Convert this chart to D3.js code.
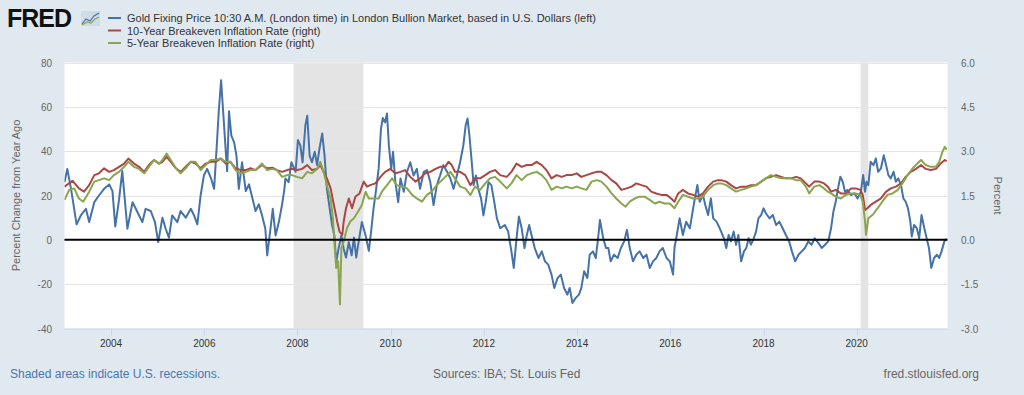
<!DOCTYPE html>
<html>
<head>
<meta charset="utf-8">
<script src="https://cdn.jsdelivr.net/npm/d3@7"></script>
<style>
  body { margin: 0; background: #e1e9f0; }
  svg { display: block; font-family: "Liberation Sans", Arial, sans-serif; }
</style>
</head>
<body>
<div id="chart"></div>
<script>
// ========================================
// Data (decimal year, value)
// ========================================

// Gold fixing price, percent change from year ago (left axis)
var gold = [
  [2003.00, 26], [2003.06, 32], [2003.14, 23], [2003.26, 7], [2003.35, 11], [2003.46, 14],
  [2003.53, 8], [2003.64, 17], [2003.74, 20], [2003.85, 23], [2003.96, 25], [2004.03, 22],
  [2004.09, 6], [2004.17, 18], [2004.24, 31], [2004.35, 5], [2004.46, 17], [2004.53, 14],
  [2004.60, 11], [2004.67, 8], [2004.74, 14], [2004.85, 13], [2004.94, 8], [2005.01, -1],
  [2005.10, 10], [2005.17, 5], [2005.24, 1], [2005.31, 11], [2005.42, 8], [2005.49, 13],
  [2005.60, 10], [2005.71, 14], [2005.78, 11], [2005.85, 7], [2005.92, 20], [2005.99, 29],
  [2006.06, 32], [2006.14, 28], [2006.21, 23], [2006.26, 40], [2006.31, 58], [2006.36, 72],
  [2006.41, 56], [2006.46, 40], [2006.49, 31], [2006.53, 58], [2006.58, 47], [2006.64, 44],
  [2006.69, 38], [2006.74, 23], [2006.81, 35], [2006.89, 22], [2006.96, 25], [2007.03, 19],
  [2007.10, 13], [2007.17, 16], [2007.24, 11], [2007.31, 5], [2007.35, -7], [2007.42, 5],
  [2007.47, 14], [2007.53, 2], [2007.60, 8], [2007.67, 16], [2007.72, 23], [2007.74, 27.7],
  [2007.81, 26], [2007.87, 35], [2007.96, 30.7], [2008.01, 45], [2008.06, 42.7], [2008.11, 35],
  [2008.17, 51.7], [2008.21, 56], [2008.26, 38], [2008.31, 35], [2008.37, 39.7], [2008.42, 33.7],
  [2008.47, 41], [2008.53, 48], [2008.58, 38], [2008.63, 23], [2008.68, 15.7], [2008.74, 6.7],
  [2008.79, 2], [2008.83, -10], [2008.88, -4], [2008.94, 2], [2008.99, -4], [2009.04, -8],
  [2009.10, -1], [2009.16, -7], [2009.21, 1], [2009.26, -8], [2009.31, -1], [2009.38, 8],
  [2009.46, 2], [2009.53, -5], [2009.58, 4], [2009.63, 14], [2009.68, 21.7], [2009.74, 32],
  [2009.79, 50], [2009.83, 55], [2009.88, 53], [2009.92, 57], [2009.96, 42.7], [2010.01, 32],
  [2010.05, 39.7], [2010.10, 26], [2010.16, 17], [2010.21, 27.7], [2010.28, 21.7], [2010.35, 30.7],
  [2010.42, 35], [2010.49, 29], [2010.56, 32], [2010.63, 23], [2010.71, 30.7], [2010.78, 31.5],
  [2010.85, 26], [2010.92, 15.7], [2010.99, 24.7], [2011.06, 29], [2011.13, 33.7], [2011.21, 30.7],
  [2011.28, 27.7], [2011.35, 23], [2011.42, 29], [2011.49, 35], [2011.56, 42.7], [2011.61, 51.7],
  [2011.65, 54.7], [2011.69, 47], [2011.74, 35], [2011.78, 24.7], [2011.83, 29], [2011.88, 23],
  [2011.94, 18.7], [2011.99, 11], [2012.04, 17], [2012.10, 26], [2012.16, 24.7], [2012.21, 18.7],
  [2012.28, 9.7], [2012.35, 5.2], [2012.45, 6.7], [2012.52, 3.7], [2012.59, -5.2], [2012.64, -12.7],
  [2012.70, 0.7], [2012.75, 10.5], [2012.81, 5.2], [2012.87, -3.7], [2012.92, 2.2], [2012.97, 6.7],
  [2013.02, 2.2], [2013.09, -3.7], [2013.17, -8.2], [2013.24, -5.2], [2013.31, -9.7], [2013.38, -11.2],
  [2013.45, -15.7], [2013.51, -21.7], [2013.58, -17.2], [2013.65, -15.7], [2013.72, -21.7], [2013.79, -24.7],
  [2013.84, -21.7], [2013.90, -28.5], [2013.97, -26.2], [2014.04, -24.7], [2014.09, -21.7], [2014.15, -14.2],
  [2014.22, -17.2], [2014.27, -6.7], [2014.34, -5.2], [2014.40, -8.2], [2014.45, 0.7], [2014.49, 9],
  [2014.56, 0.7], [2014.62, -3.7], [2014.67, -3.7], [2014.72, -9.7], [2014.79, -6.7], [2014.87, -8.2],
  [2014.94, -3.7], [2015.01, -0.7], [2015.07, 4.5], [2015.13, -3.7], [2015.20, -9.7], [2015.27, -6.7],
  [2015.34, -5.2], [2015.42, -8.2], [2015.49, -6.7], [2015.56, -12.7], [2015.63, -9.7], [2015.70, -8.2],
  [2015.77, -5.2], [2015.84, -3.7], [2015.92, -8.2], [2015.99, -9.7], [2016.06, -15.7], [2016.09, -3.7],
  [2016.14, 2.2], [2016.20, 9.7], [2016.27, 2.2], [2016.34, 8.2], [2016.42, 5.2], [2016.49, 14.2],
  [2016.54, 20.2], [2016.58, 24.7], [2016.63, 17.2], [2016.70, 20.2], [2016.75, 15.7], [2016.81, 11.2],
  [2016.87, 18.7], [2016.92, 9.7], [2016.99, 8.2], [2017.06, 5.2], [2017.15, 0.7], [2017.20, -3.7],
  [2017.25, 2.2], [2017.30, -0.7], [2017.36, 3.7], [2017.41, -2.2], [2017.46, 2.2], [2017.52, -9.7],
  [2017.58, -5.2], [2017.63, -3.7], [2017.68, 0.7], [2017.73, -2.2], [2017.79, 0.7], [2017.84, 3.7],
  [2017.89, 9.7], [2017.95, 11.2], [2018.00, 14.2], [2018.05, 12], [2018.13, 9.7], [2018.20, 11.2],
  [2018.27, 6.7], [2018.34, 8.2], [2018.41, 5.2], [2018.48, 2.2], [2018.55, -0.7], [2018.61, -5.2],
  [2018.68, -9.7], [2018.75, -6.7], [2018.82, -5.2], [2018.89, -3.7], [2018.96, -0.7], [2019.03, -2.2],
  [2019.10, 0.7], [2019.18, -1.5], [2019.25, -3.7], [2019.32, -2.2], [2019.39, -0.7], [2019.45, 5.2],
  [2019.50, 12.7], [2019.55, 17.2], [2019.60, 23.2], [2019.65, 28.5], [2019.70, 26.2], [2019.75, 21.7],
  [2019.80, 22.5], [2019.88, 20.2], [2019.95, 21], [2020.02, 18.7], [2020.09, 21.7], [2020.14, 29.2],
  [2020.18, 21.7], [2020.21, 26.2], [2020.25, 24.7], [2020.30, 35.2], [2020.36, 33.7], [2020.41, 36.7],
  [2020.46, 30.7], [2020.52, 32.2], [2020.58, 38.2], [2020.63, 33.7], [2020.68, 29.2], [2020.73, 27.7],
  [2020.79, 30.7], [2020.84, 26.2], [2020.89, 27.7], [2020.95, 24.7], [2021.00, 18.7], [2021.05, 17.2],
  [2021.10, 14.2], [2021.15, 8.2], [2021.18, 1.5], [2021.23, 6.7], [2021.29, 5.2], [2021.34, 0.7],
  [2021.39, 11.2], [2021.45, 5.2], [2021.50, 0.7], [2021.55, -3.7], [2021.60, -12.7], [2021.66, -8.2],
  [2021.72, -6.7], [2021.77, -8.2], [2021.82, -5.2], [2021.88, -0.7], [2021.93, 0.5]
];

// 10-Year breakeven inflation rate, percent (right axis)
var breakeven10 = [
  [2003.00, 1.80], [2003.17, 2.00], [2003.31, 1.74], [2003.42, 1.63], [2003.53, 1.85], [2003.64, 2.19],
  [2003.74, 2.25], [2003.85, 2.42], [2003.96, 2.30], [2004.06, 2.36], [2004.17, 2.47], [2004.28, 2.58],
  [2004.37, 2.75], [2004.49, 2.58], [2004.60, 2.47], [2004.71, 2.30], [2004.81, 2.53], [2004.92, 2.70],
  [2005.03, 2.58], [2005.10, 2.64], [2005.19, 2.81], [2005.28, 2.64], [2005.39, 2.42], [2005.49, 2.30],
  [2005.60, 2.47], [2005.71, 2.64], [2005.81, 2.58], [2005.92, 2.42], [2006.03, 2.58], [2006.14, 2.64],
  [2006.24, 2.64], [2006.35, 2.75], [2006.46, 2.58], [2006.56, 2.64], [2006.67, 2.42], [2006.78, 2.36],
  [2006.89, 2.36], [2006.99, 2.42], [2007.10, 2.36], [2007.24, 2.53], [2007.35, 2.42], [2007.46, 2.44],
  [2007.56, 2.36], [2007.67, 2.30], [2007.78, 2.36], [2007.88, 2.40], [2007.99, 2.36], [2008.10, 2.40],
  [2008.21, 2.53], [2008.31, 2.36], [2008.42, 2.40], [2008.49, 2.53], [2008.56, 2.30], [2008.63, 2.08],
  [2008.71, 1.74], [2008.78, 1.18], [2008.85, 0.62], [2008.90, 0.28], [2008.96, 0.17], [2008.99, 0.62],
  [2009.04, 1.07], [2009.10, 1.40], [2009.17, 1.07], [2009.24, 1.46], [2009.33, 1.57], [2009.42, 1.97],
  [2009.49, 1.80], [2009.56, 1.85], [2009.67, 1.91], [2009.78, 2.13], [2009.88, 2.30], [2009.99, 2.40],
  [2010.10, 2.25], [2010.21, 2.30], [2010.31, 2.36], [2010.42, 2.13], [2010.53, 1.97], [2010.63, 2.08],
  [2010.74, 2.25], [2010.85, 2.30], [2010.96, 2.40], [2011.06, 2.47], [2011.17, 2.47], [2011.24, 2.64],
  [2011.31, 2.53], [2011.38, 2.30], [2011.49, 2.30], [2011.60, 2.19], [2011.71, 1.85], [2011.81, 2.08],
  [2011.92, 2.08], [2012.03, 2.19], [2012.13, 2.30], [2012.24, 2.36], [2012.35, 2.19], [2012.49, 2.13],
  [2012.59, 2.30], [2012.70, 2.58], [2012.81, 2.47], [2012.92, 2.53], [2013.02, 2.53], [2013.13, 2.64],
  [2013.24, 2.53], [2013.34, 2.36], [2013.45, 2.08], [2013.56, 2.19], [2013.67, 2.13], [2013.77, 2.19],
  [2013.88, 2.19], [2013.99, 2.25], [2014.09, 2.13], [2014.20, 2.19], [2014.31, 2.25], [2014.42, 2.30],
  [2014.52, 2.30], [2014.63, 2.19], [2014.74, 2.02], [2014.84, 1.91], [2014.95, 1.69], [2015.06, 1.74],
  [2015.17, 1.80], [2015.27, 1.91], [2015.38, 1.85], [2015.49, 1.80], [2015.59, 1.63], [2015.70, 1.57],
  [2015.81, 1.52], [2015.92, 1.52], [2016.02, 1.40], [2016.09, 1.29], [2016.17, 1.57], [2016.27, 1.69],
  [2016.38, 1.57], [2016.49, 1.52], [2016.59, 1.46], [2016.70, 1.57], [2016.81, 1.80], [2016.92, 1.97],
  [2017.02, 2.02], [2017.09, 2.02], [2017.20, 1.97], [2017.30, 1.85], [2017.41, 1.74], [2017.52, 1.80],
  [2017.63, 1.80], [2017.73, 1.85], [2017.84, 1.85], [2017.95, 1.97], [2018.05, 2.08], [2018.16, 2.13],
  [2018.27, 2.19], [2018.38, 2.13], [2018.48, 2.08], [2018.59, 2.08], [2018.70, 2.13], [2018.80, 2.08],
  [2018.91, 1.91], [2018.98, 1.80], [2019.09, 1.97], [2019.20, 1.97], [2019.30, 1.91], [2019.38, 1.80],
  [2019.45, 1.63], [2019.55, 1.69], [2019.66, 1.57], [2019.77, 1.57], [2019.88, 1.74], [2019.98, 1.74],
  [2020.08, 1.69], [2020.13, 1.52], [2020.18, 1.01], [2020.23, 1.07], [2020.30, 1.18], [2020.41, 1.29],
  [2020.52, 1.40], [2020.63, 1.63], [2020.73, 1.74], [2020.84, 1.80], [2020.95, 1.91], [2021.05, 2.13],
  [2021.16, 2.30], [2021.27, 2.40], [2021.38, 2.53], [2021.48, 2.40], [2021.59, 2.36], [2021.70, 2.40],
  [2021.80, 2.58], [2021.89, 2.70], [2021.93, 2.66]
];

// 5-Year breakeven inflation rate, percent (right axis)
var breakeven5 = [
  [2003.00, 1.35], [2003.10, 1.69], [2003.21, 1.74], [2003.31, 1.40], [2003.40, 1.29], [2003.53, 1.63],
  [2003.64, 1.97], [2003.74, 2.02], [2003.85, 2.08], [2003.96, 2.02], [2004.06, 2.19], [2004.17, 2.30],
  [2004.28, 2.47], [2004.37, 2.64], [2004.49, 2.47], [2004.60, 2.40], [2004.71, 2.25], [2004.81, 2.47],
  [2004.92, 2.70], [2005.03, 2.58], [2005.10, 2.70], [2005.19, 2.92], [2005.28, 2.70], [2005.39, 2.42],
  [2005.49, 2.25], [2005.60, 2.42], [2005.71, 2.64], [2005.81, 2.64], [2005.92, 2.36], [2006.03, 2.53],
  [2006.14, 2.70], [2006.24, 2.70], [2006.35, 2.75], [2006.46, 2.64], [2006.56, 2.64], [2006.67, 2.36],
  [2006.78, 2.25], [2006.89, 2.30], [2006.99, 2.36], [2007.10, 2.36], [2007.24, 2.58], [2007.35, 2.36],
  [2007.46, 2.40], [2007.56, 2.36], [2007.67, 2.13], [2007.78, 2.19], [2007.88, 2.19], [2007.99, 2.13],
  [2008.10, 2.08], [2008.21, 2.30], [2008.31, 2.25], [2008.42, 2.40], [2008.49, 2.64], [2008.56, 2.30],
  [2008.63, 1.85], [2008.71, 1.40], [2008.76, 0.73], [2008.80, -0.28], [2008.83, -0.95], [2008.87, -0.73],
  [2008.91, -2.19], [2008.94, -0.28], [2008.99, -0.06], [2009.06, 0.39], [2009.13, 0.62], [2009.21, 0.73],
  [2009.30, 0.96], [2009.38, 1.18], [2009.46, 1.63], [2009.53, 1.40], [2009.63, 1.40], [2009.74, 1.40],
  [2009.81, 1.63], [2009.92, 1.85], [2010.03, 2.08], [2010.13, 1.85], [2010.24, 1.80], [2010.35, 1.74],
  [2010.46, 1.52], [2010.56, 1.40], [2010.67, 1.29], [2010.78, 1.52], [2010.88, 1.63], [2010.99, 1.85],
  [2011.10, 2.02], [2011.21, 2.19], [2011.28, 2.30], [2011.38, 2.08], [2011.49, 1.80], [2011.60, 1.74],
  [2011.71, 1.52], [2011.81, 1.80], [2011.92, 1.69], [2012.03, 1.91], [2012.13, 2.08], [2012.24, 2.13],
  [2012.35, 1.97], [2012.49, 1.74], [2012.59, 1.91], [2012.70, 2.19], [2012.81, 2.02], [2012.92, 2.19],
  [2013.02, 2.25], [2013.13, 2.30], [2013.24, 2.19], [2013.34, 2.02], [2013.45, 1.69], [2013.56, 1.80],
  [2013.67, 1.74], [2013.77, 1.80], [2013.88, 1.74], [2013.99, 1.80], [2014.09, 1.74], [2014.20, 1.69],
  [2014.31, 1.97], [2014.42, 2.02], [2014.52, 1.97], [2014.63, 1.80], [2014.74, 1.57], [2014.84, 1.40],
  [2014.95, 1.23], [2015.04, 1.12], [2015.13, 1.29], [2015.24, 1.40], [2015.34, 1.46], [2015.45, 1.46],
  [2015.56, 1.35], [2015.67, 1.23], [2015.77, 1.29], [2015.88, 1.23], [2015.99, 1.23], [2016.09, 1.07],
  [2016.17, 1.29], [2016.27, 1.52], [2016.38, 1.46], [2016.49, 1.40], [2016.59, 1.40], [2016.70, 1.46],
  [2016.81, 1.69], [2016.92, 1.85], [2017.02, 1.91], [2017.09, 1.91], [2017.20, 1.85], [2017.30, 1.74],
  [2017.41, 1.63], [2017.52, 1.69], [2017.63, 1.74], [2017.73, 1.80], [2017.84, 1.85], [2017.95, 1.97],
  [2018.05, 2.08], [2018.16, 2.19], [2018.27, 2.13], [2018.38, 2.08], [2018.48, 2.08], [2018.59, 2.08],
  [2018.70, 2.02], [2018.80, 2.02], [2018.91, 1.80], [2018.98, 1.57], [2019.09, 1.80], [2019.20, 1.85],
  [2019.30, 1.74], [2019.38, 1.63], [2019.45, 1.57], [2019.55, 1.46], [2019.66, 1.40], [2019.77, 1.52],
  [2019.88, 1.57], [2019.98, 1.57], [2020.08, 1.52], [2020.13, 1.29], [2020.18, 0.62], [2020.20, 0.17],
  [2020.25, 0.73], [2020.34, 0.84], [2020.45, 1.07], [2020.55, 1.29], [2020.66, 1.52], [2020.77, 1.57],
  [2020.88, 1.69], [2020.98, 1.91], [2021.09, 2.19], [2021.20, 2.42], [2021.30, 2.58], [2021.38, 2.70],
  [2021.48, 2.53], [2021.59, 2.47], [2021.70, 2.47], [2021.77, 2.64], [2021.84, 2.98], [2021.89, 3.15],
  [2021.93, 3.05]
];

// US recessions (start, end)
var recessions = [["2007-12-01", "2009-06-01"], ["2020-02-01", "2020-04-01"]];

var leftTicks = [-40, -20, 0, 20, 40, 60, 80];
var rightTicks = [-3.0, -1.5, 0.0, 1.5, 3.0, 4.5, 6.0];
var xTickYears = [2004, 2006, 2008, 2010, 2012, 2014, 2016, 2018, 2020];

var legendLabels = [
  "Gold Fixing Price 10:30 A.M. (London time) in London Bullion Market, based in U.S. Dollars (left)",
  "10-Year Breakeven Inflation Rate (right)",
  "5-Year Breakeven Inflation Rate (right)"
];

// ========================================
// Layout and colours
// ========================================

var width = 1024, height = 395;
var plot = { left: 64.5, top: 62.5, right: 947.5, bottom: 328.5 };

var gold_color = '#4572a7',
    be10_color = '#aa4643',
    be5_color = '#89a54e',
    background_color = '#e1e9f0',
    recession_color = '#e4e4e4',
    grid_color = '#e6e6e6';

function yearToDate(y) {
  var yr = Math.floor(y),
      start = new Date(yr, 0, 1).getTime(),
      end = new Date(yr + 1, 0, 1).getTime();
  return new Date(start + (y - yr) * (end - start));
}

var x = d3.scaleTime()
  .domain([new Date(2003, 0, 1), new Date(2021, 11, 13)])
  .range([plot.left, plot.right]);
var yLeft = d3.scaleLinear().domain([-40, 80]).range([plot.bottom, plot.top]);
var yRight = d3.scaleLinear().domain([-3, 6]).range([plot.bottom, plot.top]);

var svg = d3.select("#chart")
  .append("svg")
  .attr("width", width)
  .attr("height", height)
  .style("background-color", background_color);

// Plot background
svg.append("rect")
  .attr("x", plot.left).attr("y", plot.top)
  .attr("width", plot.right - plot.left).attr("height", plot.bottom - plot.top)
  .attr("fill", "#fff");

// Recession shading
var parse = d3.timeParse("%Y-%m-%d");
svg.selectAll(".recession")
  .data(recessions)
  .enter()
  .append("rect")
  .attr("class", "recession")
  .attr("x", d => x(parse(d[0])))
  .attr("y", plot.top)
  .attr("width", d => x(parse(d[1])) - x(parse(d[0])))
  .attr("height", plot.bottom - plot.top)
  .attr("fill", recession_color);

// Horizontal grid lines
svg.selectAll(".grid")
  .data(leftTicks.filter(t => t !== 0))
  .enter()
  .append("line")
  .attr("x1", plot.left).attr("x2", plot.right)
  .attr("y1", d => Math.round(yLeft(d)) + 0.5).attr("y2", d => Math.round(yLeft(d)) + 0.5)
  .attr("stroke", grid_color);

// Bottom axis line and ticks
svg.append("line")
  .attr("x1", plot.left).attr("x2", plot.right)
  .attr("y1", plot.bottom + 0.5).attr("y2", plot.bottom + 0.5)
  .attr("stroke", "#ccd6eb");

svg.selectAll(".xtick")
  .data(xTickYears)
  .enter()
  .append("line")
  .attr("x1", d => Math.round(x(new Date(d, 0, 1))) + 0.5)
  .attr("x2", d => Math.round(x(new Date(d, 0, 1))) + 0.5)
  .attr("y1", plot.bottom).attr("y2", plot.bottom + 7)
  .attr("stroke", "#ccd6eb");

svg.selectAll(".xlabel")
  .data(xTickYears)
  .enter()
  .append("text")
  .attr("x", d => x(new Date(d, 0, 1)))
  .attr("y", 347)
  .attr("text-anchor", "middle")
  .style("font-size", "10px")
  .style("fill", "#333")
  .text(d => d);

// Left and right tick labels
svg.selectAll(".ylabel")
  .data(leftTicks)
  .enter()
  .append("text")
  .attr("x", 52)
  .attr("y", d => yLeft(d) + 4)
  .attr("text-anchor", "end")
  .style("font-size", "10px")
  .style("fill", "#666")
  .text(d => d);

svg.selectAll(".rlabel")
  .data(rightTicks)
  .enter()
  .append("text")
  .attr("x", 961)
  .attr("y", d => yRight(d) + 4)
  .attr("text-anchor", "start")
  .style("font-size", "10px")
  .style("fill", "#666")
  .text(d => d.toFixed(1));

// Axis titles
svg.append("text")
  .attr("transform", `translate(20, ${(plot.top + plot.bottom) / 2}) rotate(-90)`)
  .attr("text-anchor", "middle")
  .style("font-size", "11px")
  .style("fill", "#666")
  .text("Percent Change from Year Ago");

svg.append("text")
  .attr("transform", `translate(994, ${(plot.top + plot.bottom) / 2}) rotate(90)`)
  .attr("text-anchor", "middle")
  .style("font-size", "11px")
  .style("fill", "#666")
  .text("Percent");

// ========================================
// Series
// ========================================

var lineLeft = d3.line().x(d => x(yearToDate(d[0]))).y(d => yLeft(d[1]));
var lineRight = d3.line().x(d => x(yearToDate(d[0]))).y(d => yRight(d[1]));

var series = [
  { data: gold, line: lineLeft, color: gold_color },
  { data: breakeven10, line: lineRight, color: be10_color },
  { data: breakeven5, line: lineRight, color: be5_color }
];

svg.append("defs").append("clipPath").attr("id", "clip")
  .append("rect")
  .attr("x", plot.left).attr("y", plot.top)
  .attr("width", plot.right - plot.left).attr("height", plot.bottom - plot.top);

svg.append("g")
  .attr("clip-path", "url(#clip)")
  .selectAll(".series")
  .data(series)
  .enter()
  .append("path")
  .attr("d", d => d.line(d.data))
  .style("fill", "none")
  .style("stroke", d => d.color)
  .style("stroke-width", 2)
  .style("stroke-linejoin", "round");

// Zero line
svg.append("line")
  .attr("x1", plot.left).attr("x2", plot.right)
  .attr("y1", yLeft(0)).attr("y2", yLeft(0))
  .attr("stroke", "#000")
  .attr("stroke-width", 2);

// ========================================
// Header: logo and legend
// ========================================

svg.append("text")
  .attr("x", 7).attr("y", 27)
  .style("font-size", "25px")
  .style("font-weight", "bold")
  .style("letter-spacing", "-1px")
  .style("fill", "#111")
  .text("FRED");

var icon = svg.append("g").attr("transform", "translate(81, 11)");
icon.append("rect").attr("width", 19).attr("height", 15).attr("fill", "#cfdbe6");
icon.append("path").attr("d", "M1,13 L5,8 L9,10 L13,5 L18,2")
  .attr("fill", "none").attr("stroke", "#4572a7").attr("stroke-width", 1.2);
icon.append("path").attr("d", "M1,14 L6,11 L10,12 L14,8 L18,6")
  .attr("fill", "none").attr("stroke", "#89a54e").attr("stroke-width", 1.2);

var legend = svg.selectAll(".legend")
  .data(legendLabels)
  .enter()
  .append("g")
  .attr("transform", (d, i) => `translate(108, ${18 + i * 12.5})`);

legend.append("line")
  .attr("x1", 0).attr("x2", 13)
  .attr("stroke", (d, i) => series[i].color)
  .attr("stroke-width", 2);

legend.append("text")
  .attr("x", 19).attr("y", 4)
  .style("font-size", "11px")
  .style("fill", "#333")
  .text(d => d);

// ========================================
// Footer
// ========================================

svg.append("text")
  .attr("x", 10).attr("y", 378)
  .style("font-size", "12px")
  .style("fill", "#4a76b0")
  .text("Shaded areas indicate U.S. recessions.");

svg.append("text")
  .attr("x", 433).attr("y", 378)
  .style("font-size", "12px")
  .style("fill", "#666")
  .text("Sources: IBA; St. Louis Fed");

svg.append("text")
  .attr("x", 979).attr("y", 378)
  .attr("text-anchor", "end")
  .style("font-size", "12px")
  .style("fill", "#666")
  .text("fred.stlouisfed.org");
</script>
</body>
</html>
